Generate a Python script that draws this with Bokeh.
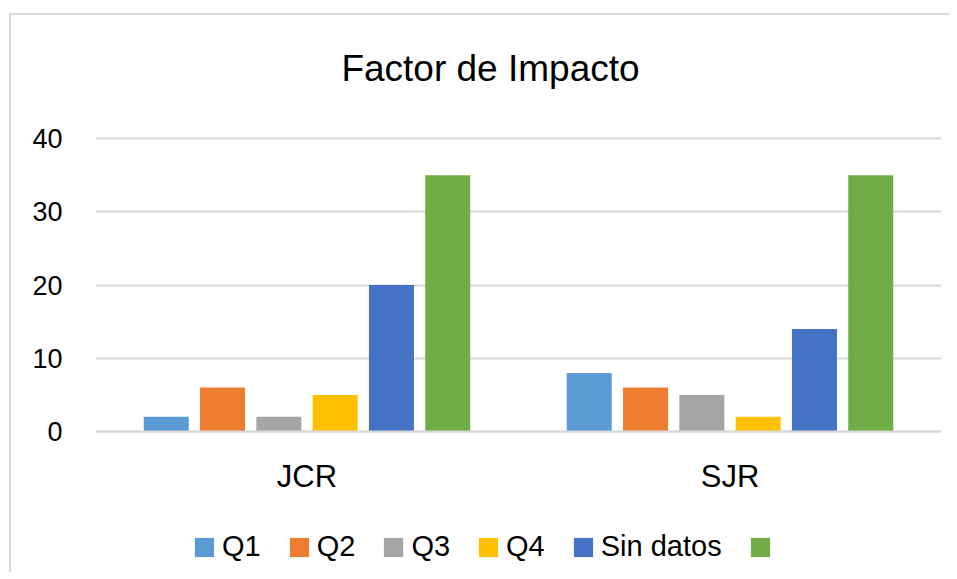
from bokeh.plotting import figure
from bokeh.models import (FactorRange, Range1d, FixedTicker, Legend, LegendItem,
                          ColumnDataSource, Label)
from bokeh.transform import dodge
from bokeh.embed import file_html
from bokeh.resources import INLINE

categories = ["JCR", "SJR"]
series_names = ["Q1", "Q2", "Q3", "Q4", "Sin datos", ""]
q1 = [2, 8]
q2 = [6, 6]
q3 = [2, 5]
q4 = [5, 2]
sin_datos = [20, 14]
sin_nombre = [35, 35]
colors = ["#5B9BD5", "#ED7D31", "#A5A5A5", "#FFC000", "#4472C4", "#70AD47"]
y_ticks = [0, 10, 20, 30, 40]
title_text = "Factor de Impacto"

FONT = "Liberation Sans"
series_values = [q1, q2, q3, q4, sin_datos, sin_nombre]

data = {"cat": categories}
for i, vals in enumerate(series_values):
    data["s%d" % i] = vals
src = ColumnDataSource(data)

# frame spans from the title area down to the legend; the value axis shows 0..40
p = figure(x_range=FactorRange(factors=categories, range_padding=0),
           y_range=Range1d(-19.25, 56.8),
           frame_width=846, frame_height=557, output_backend="svg", toolbar_location=None,
           min_border_left=84, min_border_right=8, min_border_top=0,
           min_border_bottom=0)
p.styles = {"border-top": "2px solid #d9d9d9", "border-left": "2px solid #d9d9d9",
            "margin-top": "13px", "margin-left": "9px"}

p.outline_line_color = None
p.xgrid.visible = False
p.ygrid.ticker = FixedTicker(ticks=y_ticks)
p.ygrid.grid_line_color = "#d9d9d9"
p.ygrid.grid_line_width = 2

p.yaxis.ticker = FixedTicker(ticks=y_ticks)
p.yaxis.axis_line_color = None
p.yaxis.major_tick_line_color = None
p.yaxis.minor_tick_line_color = None
p.yaxis.major_tick_out = 0
p.yaxis.major_label_standoff = 33
p.yaxis.major_label_text_font = FONT
p.yaxis.major_label_text_font_size = "27px"
p.yaxis.major_label_text_color = "#000000"

p.xaxis.fixed_location = 0
p.xaxis.axis_line_color = "#d9d9d9"
p.xaxis.axis_line_width = 2
p.xaxis.major_tick_line_color = None
p.xaxis.minor_tick_line_color = None
p.xaxis.major_tick_out = 0
p.xaxis.major_tick_in = 0
p.xaxis.major_label_standoff = 27
p.xaxis.major_label_text_font = FONT
p.xaxis.major_label_text_font_size = "31px"
p.xaxis.major_label_text_color = "#000000"

step = 0.1331
bar_w = 0.1064
items = []
for i, name in enumerate(series_names):
    r = p.vbar(x=dodge("cat", (i - 2.5) * step, range=p.x_range), top="s%d" % i,
               width=bar_w, source=src, fill_color=colors[i], line_color=None)
    items.append(LegendItem(label=name, renderers=[r]))

legend = Legend(items=items, orientation="horizontal", location=(97, 9),
                glyph_width=24, glyph_height=24, label_standoff=6, spacing=26,
                padding=0, margin=0, border_line_color=None, background_fill_alpha=0,
                label_text_font=FONT, label_text_font_size="29px",
                label_text_color="#000000")
p.add_layout(legend, "center")

title = Label(x=395, y=504, x_units="screen", y_units="screen", text=title_text,
              text_align="center", text_baseline="alphabetic", text_font=FONT,
              text_font_size="37px", text_color="#000000")
p.add_layout(title)

open("out.html", "w").write(file_html(p, INLINE))
